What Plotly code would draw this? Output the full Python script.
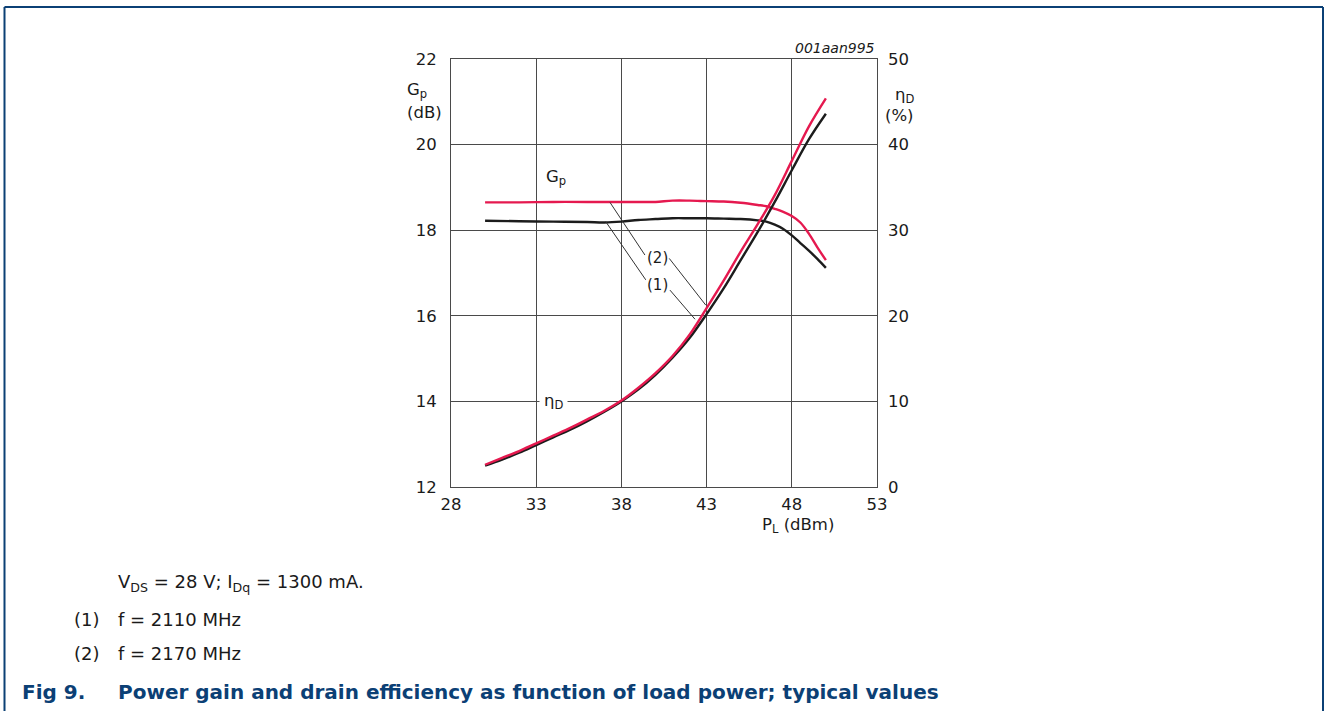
import plotly.graph_objects as go

# ---- data ----
gp_p = [30, 32, 34, 36, 37, 38, 39, 40, 41, 42, 43, 44, 45, 46, 46.5, 47, 47.5, 48, 48.5, 49, 49.5, 50]
gp_2170 = [18.65, 18.65, 18.66, 18.66, 18.66, 18.66, 18.66, 18.66, 18.69, 18.69, 18.68, 18.67, 18.64,
           18.59, 18.56, 18.50, 18.43, 18.33, 18.18, 17.92, 17.60, 17.30]
gp_2110 = [18.22, 18.21, 18.20, 18.19, 18.18, 18.20, 18.24, 18.26, 18.28, 18.28, 18.28, 18.27, 18.26,
           18.23, 18.20, 18.13, 18.03, 17.88, 17.70, 17.52, 17.33, 17.12]

eff_p = [30, 31, 32, 33, 34, 35, 36, 37, 38, 39, 40, 41, 42, 43, 44, 45, 46, 47, 48, 49, 50]
eff_2170 = [2.6, 3.4, 4.2, 5.1, 6.0, 6.9, 7.9, 8.9, 10.1, 11.6, 13.3, 15.3, 17.8, 20.9, 24.1, 27.5,
            30.7, 34.1, 38.1, 42.1, 45.4]
eff_2110 = [2.5, 3.2, 4.0, 4.9, 5.8, 6.7, 7.7, 8.8, 10.0, 11.4, 13.1, 15.1, 17.4, 20.2, 23.2, 26.5,
            29.8, 33.3, 37.0, 40.6, 43.6]

x_ticks = [28, 33, 38, 43, 48, 53]
gp_ticks = [12, 14, 16, 18, 20, 22]
eff_ticks = [0, 10, 20, 30, 40, 50]

RED = "#e5194f"
BLACK = "#1c1c1c"
BLUE = "#0b4075"
GRID = "#4a4a4a"
FONT = "DejaVu Sans, Arial, sans-serif"

fig = go.Figure()
line_w = 2.4
fig.add_trace(go.Scatter(x=gp_p, y=gp_2110, mode="lines", line=dict(color=BLACK, width=line_w, shape="spline"),
                         yaxis="y", showlegend=False))
fig.add_trace(go.Scatter(x=gp_p, y=gp_2170, mode="lines", line=dict(color=RED, width=line_w, shape="spline"),
                         yaxis="y", showlegend=False))
fig.add_trace(go.Scatter(x=eff_p, y=eff_2110, mode="lines", line=dict(color=BLACK, width=line_w, shape="spline"),
                         yaxis="y2", showlegend=False))
fig.add_trace(go.Scatter(x=eff_p, y=eff_2170, mode="lines", line=dict(color=RED, width=line_w, shape="spline"),
                         yaxis="y2", showlegend=False))

# plot area in pixels: x 451..877, y 59..487
W, H = 1326, 711
L, R, T, B = 451, 877, 59, 487

def px(xp):
    return (xp - L) / (R - L)

def py(yp):
    return (B - yp) / (B - T)

TICK = 16.5
fig.update_layout(
    width=W, height=H,
    margin=dict(l=L, r=W - R, t=T, b=H - B, pad=0),
    paper_bgcolor="white", plot_bgcolor="white",
    font=dict(family=FONT, size=TICK, color="#1a1a1a"),
    xaxis=dict(range=[28, 53], tickvals=x_ticks, showgrid=True, gridcolor=GRID, gridwidth=1,
               showline=True, linecolor=GRID, linewidth=1, mirror=True, zeroline=False,
               ticks="", ticklabelstandoff=2, tickfont=dict(size=TICK)),
    yaxis=dict(range=[12, 22], tickvals=gp_ticks, showgrid=True, gridcolor=GRID, gridwidth=1,
               showline=True, linecolor=GRID, linewidth=1, mirror=True, zeroline=False,
               ticks="", ticklabelstandoff=10, tickfont=dict(size=TICK)),
    yaxis2=dict(range=[0, 50], tickvals=eff_ticks, overlaying="y", side="right", showgrid=False,
                zeroline=False, showline=False, ticks="", ticklabelstandoff=10, tickfont=dict(size=TICK)),
)

def pa(x, y, text, size=TICK, **kw):
    d = dict(x=px(x), y=py(y), xref="paper", yref="paper", text=text, showarrow=False,
             yanchor="middle", font=dict(size=size, family=FONT, color="#1a1a1a"))
    d.update(kw)
    return d

ann = []
# axis titles
ann.append(pa(405, 90, "G<sub>p</sub>"))
ann.append(pa(405, 112, "(dB)"))
ann.append(pa(916, 95, "η<sub>D</sub>"))
ann.append(pa(916, 115, "(%)"))
ann.append(pa(836, 525, "P<sub>L</sub> (dBm)"))
ann.append(pa(877, 48, "<i>001aan995</i>", size=14, xanchor="right"))
# curve labels
ann.append(dict(x=34.15, y=19.22, xref="x", yref="y", text="G<sub>p</sub>", showarrow=False,
                font=dict(size=TICK, family=FONT, color="#1a1a1a")))
ann.append(dict(x=34.0, y=14.0, xref="x", yref="y", text="η<sub>D</sub>", showarrow=False,
                font=dict(size=TICK, family=FONT, color="#1a1a1a"), bgcolor="white", borderpad=4))
ann.append(dict(x=40.12, y=17.36, xref="x", yref="y", text="(2)", showarrow=False,
                font=dict(size=15, family=FONT, color="#1a1a1a")))
ann.append(dict(x=40.09, y=16.72, xref="x", yref="y", text="(1)", showarrow=False,
                font=dict(size=15, family=FONT, color="#1a1a1a")))

# caption
CAP = 18
ann.append(pa(116, 583, "V<sub>DS</sub> = 28 V; I<sub>Dq</sub> = 1300 mA.", size=CAP, xanchor="left"))
ann.append(pa(72, 619, "(1)", size=CAP, xanchor="left"))
ann.append(pa(116, 619, "f = 2110 MHz", size=CAP, xanchor="left"))
ann.append(pa(72, 653, "(2)", size=CAP, xanchor="left"))
ann.append(pa(116, 653, "f = 2170 MHz", size=CAP, xanchor="left"))
TT = 20
ann.append(dict(x=px(20), y=py(692), xref="paper", yref="paper", xanchor="left", yanchor="middle",
                text="<b>Fig 9.</b>", showarrow=False, font=dict(size=TT, color=BLUE, family=FONT)))
ann.append(dict(x=px(116), y=py(692), xref="paper", yref="paper", xanchor="left", yanchor="middle",
                text="<b>Power gain and drain efficiency as function of load power; typical values</b>",
                showarrow=False, font=dict(size=TT, color=BLUE, family=FONT)))
fig.update_layout(annotations=ann)

# leader lines (data coordinates)
leaders = [
    (37.33, 18.65, 39.38, 17.42),
    (40.81, 17.34, 42.95, 16.25),
    (37.08, 18.20, 39.43, 16.84),
    (40.85, 16.60, 42.32, 15.92),
]
shapes = []
for x0, y0, x1, y1 in leaders:
    shapes.append(dict(type="line", xref="x", yref="y", x0=x0, y0=y0, x1=x1, y1=y1,
                       line=dict(color="#333333", width=1)))
# outer frame (top, left, right)
shapes.append(dict(type="line", xref="paper", yref="paper", x0=px(4.5), y0=py(7), x1=px(1323), y1=py(7),
                   line=dict(color=BLUE, width=2)))
shapes.append(dict(type="line", xref="paper", yref="paper", x0=px(4.5), y0=py(7), x1=px(4.5), y1=py(720),
                   line=dict(color=BLUE, width=2)))
shapes.append(dict(type="line", xref="paper", yref="paper", x0=px(1323), y0=py(7), x1=px(1323), y1=py(720),
                   line=dict(color=BLUE, width=2)))
fig.update_layout(shapes=shapes)

fig.write_html("out.html", config={"displayModeBar": False},
               post_script="document.body.style.margin='0';document.body.style.overflow='hidden';")
